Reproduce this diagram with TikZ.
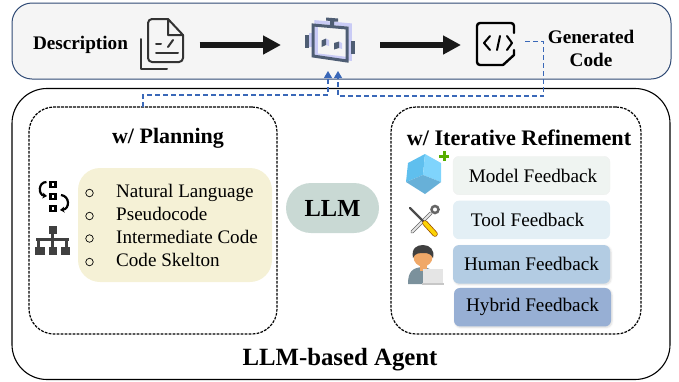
\documentclass[tikz,border=0pt]{standalone}
\usepackage{fontspec}
\setmainfont{Liberation Serif}
\usetikzlibrary{arrows.meta,positioning,shadows.blur}
\definecolor{PanelBlue}{HTML}{2F4A75}
\definecolor{LinkBlue}{HTML}{3A68B8}
\definecolor{IconDark}{HTML}{333333}
\definecolor{RobotDark}{HTML}{4E5D73}
\definecolor{RobotLight}{HTML}{C9CBF5}
\definecolor{ListFill}{HTML}{F5F1D6}
\definecolor{LlmFill}{HTML}{C9D9D4}
\definecolor{ModelFill}{HTML}{EFF4F1}
\definecolor{ToolFill}{HTML}{E3EFF5}
\definecolor{HumanFill}{HTML}{B3CCE3}
\definecolor{HybridFill}{HTML}{97AFD4}
\definecolor{SkinTone}{HTML}{F0A868}
\definecolor{CubeTop}{HTML}{7FD4FC}
\definecolor{CubeLeft}{HTML}{5FBFEE}
\definecolor{CubeLow}{HTML}{67B0D8}
\tikzset{
	BoldText/.style={font=\fontsize{19.2}{23}\selectfont\bfseries, inner sep=0pt},
	TitleText/.style={font=\fontsize{22}{26}\selectfont\bfseries, inner sep=0pt},
	ListText/.style={font=\fontsize{19.1}{22}\selectfont, inner sep=0pt},
	ListDot/.style={draw=black, circle, line width=0.7pt, minimum size=7.5pt, inner sep=0pt},
	DashBox/.style={draw=black, dash pattern=on 2.8pt off 1.2pt, line width=1.2pt, rounded corners=25pt, minimum width=248pt, minimum height=227pt, inner sep=0pt},
	FeedBox/.style={rounded corners=6pt, minimum width=157pt, minimum height=38.5pt, inner sep=0pt, font=\fontsize{19.2}{23}\selectfont},
	SoftShadow/.style={blur shadow={shadow blur steps=5, shadow xshift=1pt, shadow yshift=-1pt, shadow opacity=15}},
	BigArrow/.style={-{Triangle[length=18pt,width=18pt]}, line width=5.5pt, black!90},
	LinkArrow/.style={-{Triangle[length=7pt,width=8pt]}, LinkBlue, line width=1.1pt, dash pattern=on 5pt off 3pt},
	IconBox/.style={minimum width=#1, minimum height=44pt, inner sep=0pt, outer sep=0pt},
}
\begin{document}
\begin{tikzpicture}[x=1pt, y=-1pt]
	\useasboundingbox (0,0) rectangle (679,381);
	\node[draw=PanelBlue, fill=black!4, line width=1pt, rounded corners=20pt, minimum width=659pt, minimum height=76pt, inner sep=0pt] (panel) at (341.5,41) {};
	\node[draw=black, line width=1.1pt, rounded corners=35pt, minimum width=658pt, minimum height=291pt, inner sep=0pt] (agent) at (341,234) {};
	\node[DashBox] (planbox) at (153,220.5) {};
	\node[DashBox, minimum width=250pt] (refinebox) at (516,220.5) {};
	\node[BoldText] (desc) at (80.5,45) {Description};
	\node[IconBox=46pt] (desciconbox) at (162.5,45) {};
	\node[IconBox=52pt] (roboticon) at (331,45) {};
	\node[IconBox=38pt] (codeicon) at (495,45) {};
	\node[BoldText, align=center] (gencode) at (591,48.5) {Generated\\[0.5pt]Code};
	\draw[BigArrow, shorten <=14pt, shorten >=24pt] (desciconbox.east) -- (roboticon.west);
	\draw[BigArrow, shorten <=23pt, shorten >=15pt] (roboticon.east) -- (codeicon.west);
	\coordinate (plantop) at (143,107);
	\coordinate (planin) at (328,71);
	\coordinate (codeout) at (525,41.5);
	\coordinate (codein) at (338,71);
	\draw[LinkArrow] (plantop) -- (143,95) -- (328,95) -- (planin);
	\draw[LinkArrow] (codeout) -- (543.5,41.5) -- (543.5,96) -- (338,96) -- (codein);
	\begin{scope}[IconDark, line width=2pt, line cap=round, line join=round]
		\draw[rounded corners=4pt] (168,19) -- (148,19) -- (148,62) -- (183,62) -- (183,35);
		\draw (168,19) -- (183,35) -- (168,35) -- cycle;
		\draw (141,39) -- (141,69) -- (167,69);
		\draw (156,44) -- (161,44);
		\draw (173,40) -- (168,47);
		\draw (156,53) -- (178,53);
	\end{scope}
	\draw[RobotLight, line width=3.5pt, line join=miter] (316,22) -- (350,25) -- (350,59) -- (316,55) -- cycle;
	\fill[RobotLight] (309,33) rectangle (312,47);
	\fill[RobotLight] (347,39) rectangle (351,54);
	\fill[RobotDark] (326,17.5) -- (338,18.5) -- (338,21.5) -- (334,21.5) -- (334,26) -- (330,26) -- (330,21) -- (326,20.5) -- cycle;
	\draw[RobotDark, line width=3pt, line join=miter] (313,25) -- (347,28) -- (347,61) -- (313,56) -- cycle;
	\fill[RobotDark] (305,35) rectangle (309,48);
	\fill[RobotDark] (351,41) rectangle (355,54);
	\fill[RobotLight] (326,38.5) -- (329,40) -- (329,46) -- (326,45) -- cycle;
	\fill[RobotLight] (339,41.5) -- (342,43) -- (342,49) -- (339,48) -- cycle;
	\fill[RobotDark] (321.5,40.5) -- (326,38.5) -- (326,45) -- (321.5,47) -- cycle;
	\fill[RobotDark] (334,43) -- (339,41.5) -- (339,48) -- (334,49.5) -- cycle;
	\begin{scope}[black, line width=2.4pt, line join=round, line cap=round]
		\draw[rounded corners=3pt] (514,33) -- (514,23) -- (477,23) -- (477,65) -- (503,65);
		\draw (503,65) -- (514,55) -- (514,50);
		\draw[line width=2pt] (490,36) -- (484,43) -- (490,50);
		\draw[line width=2pt] (500,36) -- (497,50);
		\draw[line width=2pt] (507,36) -- (512,43) -- (507,50);
	\end{scope}
	\node[TitleText] (plantitle) at (168,138) {w/ Planning};
	\node[TitleText, font=\fontsize{22.2}{26}\selectfont\bfseries] (refinetitle) at (519,138) {w/ Iterative Refinement};
	\node[fill=ListFill, rounded corners=22pt, minimum width=194pt, minimum height=114pt, inner sep=0pt] (listbox) at (175,225) {};
	\node[ListText, anchor=base west] (natlang) at (116,197) {Natural Language};
	\node[ListText, below=23pt of natlang.base west, anchor=base west] (pseudo) {Pseudocode};
	\node[ListText, below=23pt of pseudo.base west, anchor=base west] (intercode) {Intermediate Code};
	\node[ListText, below=23pt of intercode.base west, anchor=base west] (skelton) {Code Skelton};
	\node[ListDot] (dota) at (89.5,193) {};
	\node[ListDot, below=23pt of dota.center, anchor=center] (dotb) {};
	\node[ListDot, below=22.5pt of dotb.center, anchor=center] (dotc) {};
	\node[ListDot, below=23.5pt of dotc.center, anchor=center] (dotd) {};
	\begin{scope}[black, line width=2.6pt]
		\draw (50.5,182) rectangle (55.5,187);
		\draw (50.5,194) rectangle (55.5,199);
		\draw (50.5,206) rectangle (55.5,211);
		\draw[line width=2.2pt, -{Stealth[length=4.5pt,width=6pt]}] (46.5,182) .. controls (38,182) and (38,195) .. (47,196);
		\draw[line width=2.2pt, -{Stealth[length=4.5pt,width=6pt]}] (61,195) .. controls (70,196) and (70,209) .. (60,210);
	\end{scope}
	\begin{scope}[black!75]
		\fill (48.5,226) rectangle (57,233.5);
		\fill (51.2,233) rectangle (54.3,247);
		\fill (36,237.5) rectangle (68.5,241);
		\fill (37,237.5) rectangle (40,247);
		\fill (65,237.5) rectangle (68,247);
		\fill (35,246.5) rectangle (45,254.5);
		\fill (49,246.5) rectangle (57,254.5);
		\fill (60.5,246.5) rectangle (69.5,254.5);
	\end{scope}
	\node[fill=LlmFill, rounded corners=25pt, minimum width=93pt, minimum height=50pt, inner sep=0pt, font=\fontsize{24.5}{28}\selectfont\bfseries] (llm) at (332.5,208) {LLM};
	\node[FeedBox, fill=ModelFill, draw=black!6] (modelfb) at (531.5,175.5) {\hspace{3pt}Model Feedback};
	\node[FeedBox, fill=ToolFill, below=5.5pt of modelfb] (toolfb) {\hspace{-8pt}Tool Feedback};
	\node[FeedBox, fill=HumanFill, below=5.5pt of toolfb, SoftShadow] (humanfb) {Human Feedback};
	\node[FeedBox, fill=HybridFill, xshift=1pt, below=4pt of humanfb, SoftShadow] (hybridfb) {Hybrid Feedback};
	\fill[CubeLeft] (425,154) -- (408,163) -- (406,182) -- (423,175) -- cycle;
	\fill[CubeTop] (425,154) -- (441,163) -- (441,182) -- (423,175) -- cycle;
	\fill[CubeLow] (406,182) -- (425,194) -- (441,182) -- (423,175) -- cycle;
	\fill[green!60!orange!85!black] (442.5,151) rectangle (445.5,161);
	\fill[green!60!orange!85!black] (439,154.5) rectangle (449,157.5);
	\draw[black!60, line width=3.5pt, line cap=round] (412,232) -- (431,213);
	\draw[black!60, line width=2.5pt] (435,209.5) circle (3.5);
	\draw[black!10, line width=2pt, line cap=round] (412,232) -- (431,213);
	\draw[black!70, line width=2.4pt, line cap=round] (410,208) -- (423,221);
	\draw[orange!60!black, line width=5.5pt, line cap=round] (425,223) -- (435,234);
	\draw[yellow!70!orange, line width=4pt, line cap=round] (425,223) -- (435,234);
	\fill[cyan!25!gray!90!black] (408,284) .. controls (408,272) and (412,268) .. (422,267) .. controls (432,268) and (436,272) .. (437,284) -- cycle;
	\fill[SkinTone] (423,257) circle (9.5);
	\fill[SkinTone] (419.5,262) rectangle (426.5,271);
	\fill[black!75] (413,258) .. controls (411,248) and (417,245) .. (423,245) .. controls (430,245) and (435,250) .. (433,258) .. controls (431,254) and (428,253) .. (424,253) .. controls (419,253) and (415,253) .. (413,258) -- cycle;
	\fill[black!10] (423,269) rectangle (443,283);
	\fill[black!22] (422,282.5) rectangle (444,285);
	\node[TitleText, font=\fontsize{24.8}{28}\selectfont\bfseries] (agenttitle) at (340,360) {LLM-based Agent};
\end{tikzpicture}
\end{document}
